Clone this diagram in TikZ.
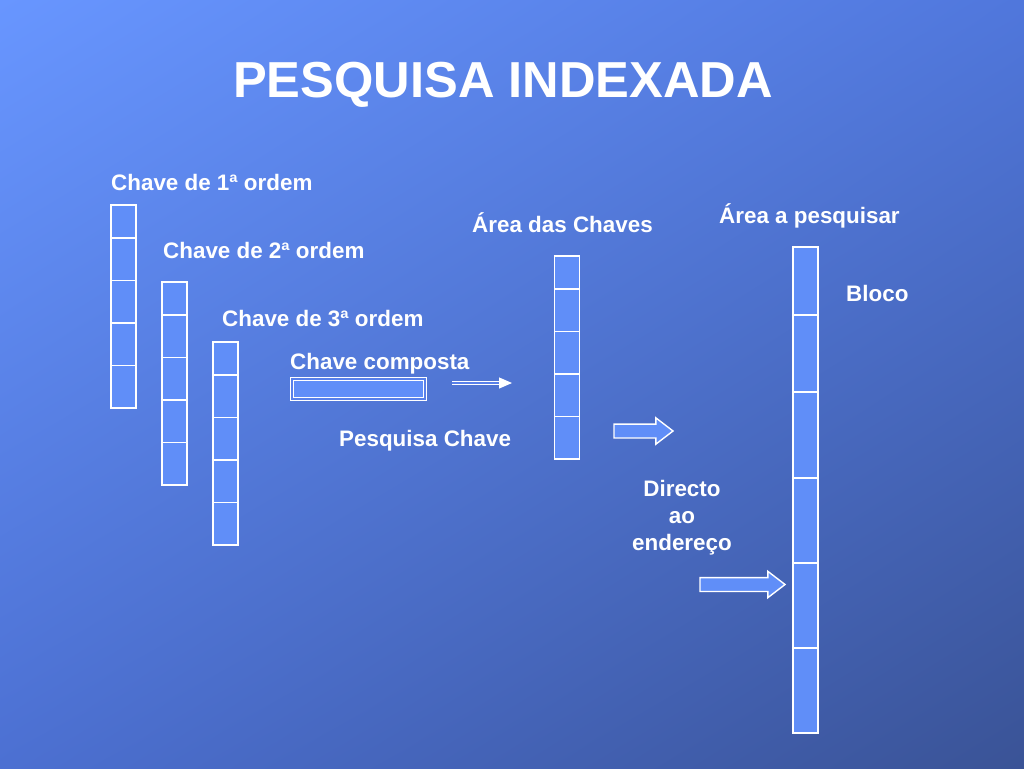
\documentclass[tikz,border=0pt]{standalone}
\usepackage{fontspec}
\setmainfont{Liberation Sans}
\usepackage{tikz}
\usetikzlibrary{arrows.meta, positioning, shapes.arrows, shadings}
\definecolor{bgtl}{HTML}{6896FF}
\definecolor{bgtr}{HTML}{5077DC}
\definecolor{bgbl}{HTML}{4C70D2}
\definecolor{bgbr}{HTML}{3A5396}
\definecolor{boxblue}{HTML}{608EF8}
\definecolor{gapblue}{HTML}{5880EA}
\tikzset{
  cell/.style={draw=white, fill=boxblue, line width=1.4pt, minimum width=25pt, inner sep=0pt, outer sep=0pt},
  lbl/.style={text=white, font=\fontsize{22.4}{27}\selectfont\bfseries, inner sep=0pt, anchor=base west},
  blockarrow/.style={single arrow, draw=white, fill=boxblue, line width=1.4pt, inner xsep=0pt, inner ysep=6.25pt,
    single arrow head extend=6.25pt, single arrow tip angle=75, outer sep=0pt, anchor=west}
}

\begin{document}
\begin{tikzpicture}[x=1pt, y=-1pt]
    \useasboundingbox (0,0) rectangle (1024,768);
    \shade[upper left=bgtl, upper right=bgtr, lower left=bgbl, lower right=bgbr] (0,0) rectangle (1024,768);

    \node[text=white, font=\fontsize{50.6}{60}\selectfont\bfseries, inner sep=0pt, anchor=base] (title) at (503,97) {PESQUISA INDEXADA};

    % chave de 1a ordem
    \node[lbl] (L1) at (111,190) {Chave de 1ª ordem};
    \node[cell, minimum height=33pt] (A1) at (123.5,221.5) {};
    \node[cell, minimum height=42.5pt, below=0pt of A1] (A2) {};
    \node[cell, minimum height=42.5pt, below=0pt of A2] (A3) {};
    \node[cell, minimum height=42.5pt, below=0pt of A3] (A4) {};
    \node[cell, minimum height=42.5pt, below=0pt of A4] (A5) {};

    % chave de 2a ordem
    \node[lbl] (L2) at (163,258) {Chave de 2ª ordem};
    \node[cell, minimum height=33pt] (B1) at (174.5,298.5) {};
    \node[cell, minimum height=42.5pt, below=0pt of B1] (B2) {};
    \node[cell, minimum height=42.5pt, below=0pt of B2] (B3) {};
    \node[cell, minimum height=42.5pt, below=0pt of B3] (B4) {};
    \node[cell, minimum height=42.5pt, below=0pt of B4] (B5) {};

    % chave de 3a ordem
    \node[lbl] (L3) at (222,326) {Chave de 3ª ordem};
    \node[cell, minimum height=33pt] (C1) at (225.5,358.5) {};
    \node[cell, minimum height=42.5pt, below=0pt of C1] (C2) {};
    \node[cell, minimum height=42.5pt, below=0pt of C2] (C3) {};
    \node[cell, minimum height=42.5pt, below=0pt of C3] (C4) {};
    \node[cell, minimum height=42.5pt, below=0pt of C4] (C5) {};

    % chave composta
    \node[lbl] (Lcomp) at (290,369) {Chave composta};
    \node[draw=white, line width=1pt, double=gapblue, double distance=2pt, fill=boxblue,
          minimum width=133pt, minimum height=20pt, inner sep=0pt] (comp) at (358.5,389) {};
    \coordinate (dA) at (452,383);
    \coordinate (dB) at (512,383);
    \draw[white, line width=1.1pt, double=gapblue, double distance=2.2pt, -{Triangle[length=13pt, width=11pt]}] (dA) -- (dB);
    \node[lbl] (Lpesq) at (339,446) {Pesquisa Chave};

    % area das chaves
    \node[lbl] (Lkeys) at (472,232) {Área das Chaves};
    \node[cell, minimum height=33pt] (K1) at (567,272.5) {};
    \node[cell, minimum height=42.5pt, below=0pt of K1] (K2) {};
    \node[cell, minimum height=42.5pt, below=0pt of K2] (K3) {};
    \node[cell, minimum height=42.5pt, below=0pt of K3] (K4) {};
    \node[cell, minimum height=42.5pt, below=0pt of K4] (K5) {};

    \node[blockarrow, minimum height=59pt] (arrK) at (614,431) {};

    % area a pesquisar
    \node[lbl] (Lsearch) at (719,223) {Área a pesquisar};
    \node[lbl] (Lbloco) at (846,301) {Bloco};
    \node[cell, minimum height=68pt] (R1) at (805.5,281) {};
    \node[cell, minimum height=77pt, below=0pt of R1] (R2) {};
    \node[cell, minimum height=86pt, below=0pt of R2] (R3) {};
    \node[cell, minimum height=85pt, below=0pt of R3] (R4) {};
    \node[cell, minimum height=85pt, below=0pt of R4] (R5) {};
    \node[cell, minimum height=85pt, below=0pt of R5] (R6) {};

    \node[lbl, align=center, anchor=base] (Ldir) at (682,550) {Directo\\ao\\endereço};
    \node[blockarrow, minimum height=85pt] (arrR) at (700,584.5) {};
\end{tikzpicture}
\end{document}
